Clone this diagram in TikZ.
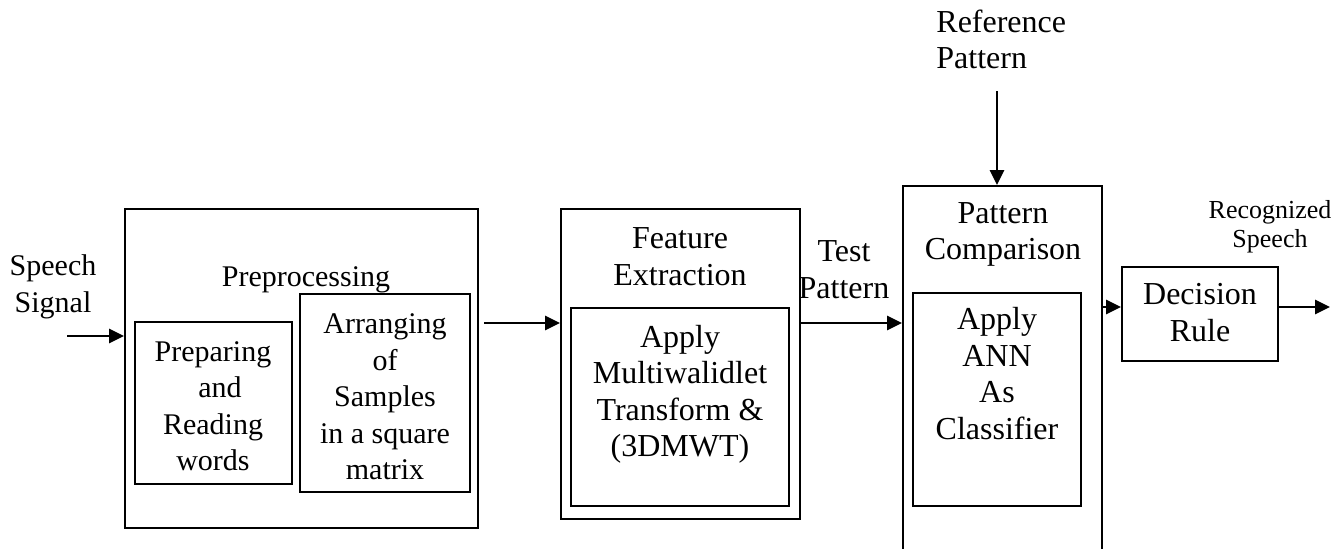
\documentclass[tikz,border=0pt]{standalone}
\usepackage{fontspec}
\setmainfont{Liberation Serif}
\usetikzlibrary{arrows.meta}
\begin{document}
\begin{tikzpicture}[x=0.5pt,y=-0.5pt,
  box/.style={draw,line width=1pt,inner sep=0pt},
  txt/.style={inner sep=0pt,align=center,font=\fontsize{15}{18.25}\selectfont},
  big/.style={inner sep=0pt,align=center,font=\fontsize{16}{18.25}\selectfont},
  small/.style={inner sep=0pt,align=center,font=\fontsize{13}{14.5}\selectfont},
  arr/.style={line width=1.4pt,-{Triangle[length=7.5pt,width=7pt]}}]
\useasboundingbox (0,0) rectangle (1336,548);
\clip (0,0) rectangle (1336,548);
% boxes
\node[box,minimum width=176.5pt,minimum height=159.5pt] (pre) at (301.5,368.5) {};
\node[box,minimum width=78.5pt,minimum height=81pt] (prep) at (213.5,403) {};
\node[box,minimum width=85pt,minimum height=99pt] (arrg) at (385,393) {};
\node[box,minimum width=119.5pt,minimum height=155pt] (feat) at (680.5,364) {};
\node[box,minimum width=109pt,minimum height=99pt] (featin) at (680,407) {};
\node[box,minimum width=99.5pt,minimum height=192pt] (pat) at (1002.5,378) {};
\node[box,minimum width=84pt,minimum height=106.5pt] (patin) at (997,399.5) {};
\node[box,minimum width=78pt,minimum height=47pt] (dec) at (1200,314) {};
% texts
\node[txt] (sig) at (53,286.7) {\strut Speech\\\strut Signal};
\node[txt,anchor=base] (pretxt) at (306,286) {Preprocessing};
\node[txt] (preptxt) at (213,408.7) {\strut Preparing\\\strut\hspace*{7pt}and\\\strut Reading\\\strut words};
\node[txt] (arrtxt) at (385,399.2) {\strut Arranging\\\strut of\\\strut Samples\\\strut in a square\\\strut matrix};
\node[big] (feattxt) at (680,259.7) {\strut Feature\\\strut Extraction};
\node[big] (featintxt) at (680,394.7) {\strut Apply\\\strut Multiwalidlet\\\strut Transform \&\\\strut (3DMWT)};
\node[big] (test) at (844,272.7) {\strut Test\\\strut Pattern};
\node[big,align=left,anchor=west] (ref) at (936,43.2) {\strut Reference\\\strut Pattern};
\node[big] (pattxt) at (1003,234.2) {\strut Pattern\\\strut Comparison};
\node[big] (patintxt) at (997,377.2) {\strut Apply\\\strut ANN\\\strut As\\\strut Classifier};
\node[big] (dectxt) at (1200,315.7) {\strut Decision\\\strut Rule};
\node[small] (rec) at (1270,226.7) {\strut Recognized\\\strut Speech};
% connector ends
\coordinate (inp) at (67,336);
\coordinate (refs) at (997,91);
\coordinate (outp) at (1330,307);
% arrows
\draw[arr] (inp) -- (pre.west |- inp);
\draw[arr] ([xshift=2.5pt,yshift=22.75pt]pre.east) -- ([yshift=20.5pt]feat.west);
\draw[arr] ([yshift=20.5pt]feat.east) -- (pat.west |- 0,323);
\draw[arr] (refs) -- (refs |- pat.north);
\draw[arr] (pat.east |- 0,307) -- (dec.west |- 0,307);
\draw[arr] (dec.east |- outp) -- (outp);
\end{tikzpicture}
\end{document}
